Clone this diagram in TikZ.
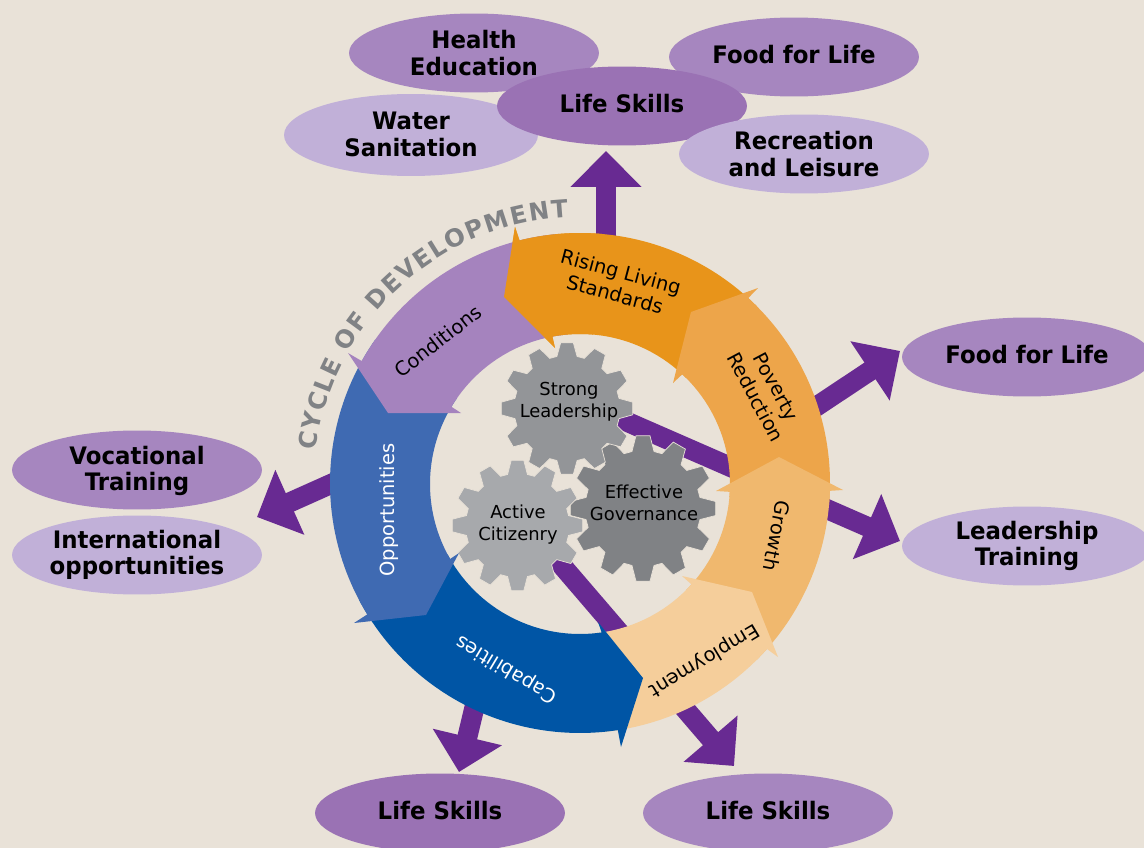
\documentclass[tikz,border=0pt]{standalone}
\usepackage{fontspec}
\setmainfont{DejaVu Sans}
\newfontfamily\bubblefont{DejaVu Sans Bold}[FakeStretch=0.95]
\usetikzlibrary{arrows.meta,decorations.text,shapes.geometric}
\definecolor{bgc}{HTML}{E9E2D8}
\definecolor{pur}{HTML}{682A92}
\definecolor{ellA}{HTML}{A686BF}
\definecolor{ellB}{HTML}{9A72B4}
\definecolor{ellC}{HTML}{C1B0D8}
\definecolor{cCond}{HTML}{A583BE}
\definecolor{cRise}{HTML}{E8941A}
\definecolor{cPov}{HTML}{EDA54A}
\definecolor{cGrow}{HTML}{F0B86E}
\definecolor{cEmp}{HTML}{F5CE9B}
\definecolor{cCap}{HTML}{0055A5}
\definecolor{cOpp}{HTML}{3F6AB2}
\definecolor{gS}{HTML}{939598}
\definecolor{gE}{HTML}{808285}
\definecolor{gA}{HTML}{A7A9AC}
\newcommand\ringO[2]{plot[domain=#1:#2,samples=50] ({580+250*cos(\x)},{483-250*sin(\x)})}
\newcommand\ringI[2]{-- plot[domain=#1:#2,samples=50] ({580+150*cos(\x)},{484-150*sin(\x)})}
\newcommand\gear[5]{% x y Router Rroot color
  \fill[#5,draw=bgc,line width=0.4pt] ({#1+#4*cos(-11)},{#2-#4*sin(-11)})
  \foreach \a in {0,30,...,330}{
    -- ({#1+#4*cos(\a-11)},{#2-#4*sin(\a-11)})
    -- ({#1+#3*cos(\a-5.5)},{#2-#3*sin(\a-5.5)})
    -- ({#1+#3*cos(\a+5.5)},{#2-#3*sin(\a+5.5)})
    -- ({#1+#4*cos(\a+11)},{#2-#4*sin(\a+11)})
  } -- cycle;}
\tikzset{
  x=0.02cm,y=-0.02cm,
  bubble/.style={ellipse,inner sep=0pt,minimum width=5cm,minimum height=1.58cm},
  bubbletext/.style={font=\fontsize{13.7}{15.1}\selectfont\bubblefont,align=center,inner sep=0pt},
  ringlab/.style={font=\fontsize{11.1}{13.2}\selectfont,align=center,inner sep=0pt},
  gearlab/.style={font=\fontsize{10.2}{12.5}\selectfont,align=center,inner sep=0pt},
  bigarrow/.style={draw=pur,line width=0.4cm,-{Triangle[width=1.38cm,length=0.72cm]}},
}
\begin{document}
\begin{tikzpicture}
\path[use as bounding box,fill=bgc] (0,0) rectangle (1144,848);
\clip (0,0) rectangle (1144,848);
% outer bubbles
\node[bubble,fill=ellA] (health) at (474,53) {};
\node[bubble,fill=ellA] (foodtop) at (794,57) {};
\node[bubble,fill=ellC,minimum width=5.08cm,minimum height=1.64cm] (water) at (411,135) {};
\node[bubble,fill=ellB] (skillstop) at (622,106) {};
\node[bubble,fill=ellC] (recreation) at (804,154) {};
\node[bubble,fill=ellA] (foodright) at (1027,357) {};
\node[bubble,fill=ellC] (leadership) at (1027,546) {};
\node[bubble,fill=ellA] (vocational) at (137,470) {};
\node[bubble,fill=ellC] (international) at (137,555) {};
\node[bubble,fill=ellB] (skillsleft) at (440,813) {};
\node[bubble,fill=ellA] (skillsright) at (768,813) {};
\node[bubbletext] (healthT) at (474,53) {Health\\Education};
\node[bubbletext] (foodtopT) at (794,55) {Food for Life};
\node[bubbletext] (waterT) at (411,134.5) {Water\\Sanitation};
\node[bubbletext] (skillstopT) at (622,104) {Life Skills};
\node[bubbletext] (recreationT) at (804,154) {Recreation\\and Leisure};
\node[bubbletext] (foodrightT) at (1027,355) {Food for Life};
\node[bubbletext] (leadershipT) at (1027,546) {Leadership\\Training};
\node[bubbletext] (vocationalT) at (137,471) {Vocational\\Training};
\node[bubbletext] (internationalT) at (137,555) {International\\opportunities};
\node[bubbletext] (skillsleftT) at (440,811) {Life Skills};
\node[bubbletext] (skillsrightT) at (768,811) {Life Skills};
% hubs and tips of the connectors
\coordinate (hubStrong) at (600,410);
\coordinate (hubActive) at (540,540);
\coordinate (hubTop) at (606,260);
\coordinate (hubRight) at (790,424);
\coordinate (hubLeft) at (360,471);
\coordinate (hubBottom) at (481,680);
\coordinate (tipTop) at (606,151);
\coordinate (tipFood) at (900,351);
\coordinate (tipLead) at (900,541);
\coordinate (tipVoc) at (257,517);
\coordinate (tipLeft) at (459,772);
\coordinate (tipRight) at (734,766);
\draw[bigarrow] (hubTop) -- (tipTop);
\draw[bigarrow] (hubRight) -- (tipFood);
\draw[bigarrow] (hubStrong) -- (tipLead);
\draw[bigarrow] (hubLeft) -- (tipVoc);
\draw[bigarrow] (hubBottom) -- (tipLeft);
\draw[bigarrow] (hubActive) -- (tipRight);
% gears
\gear{643}{508.5}{73}{58}{gE}
\gear{517.5}{525.5}{65.5}{52}{gA}
\gear{567}{408.5}{66}{53}{gS}
% ring
\fill[cRise] \ringO{104}{45} \ringI{45}{100.6} -- (555,348) -- (504,297) -- (515,227) -- cycle;
\fill[cPov] \ringO{47.7}{-5} \ringI{-5}{47} -- (673,383) -- (691,312) -- (758,288) -- cycle;
\fill[cGrow] \ringO{-1.8}{-45} \ringI{-45}{-3} -- (716,491) -- (779,457) -- (843,490) -- cycle;
\fill[cEmp] \ringO{-41.6}{-85} \ringI{-85}{-42} -- (682,576) -- (752,592) -- (778,657) -- cycle;
\fill[cCap] \ringO{-81.3}{-152} \ringI{-152}{-81.7} -- (598,622) -- (643,678) -- (621,747) -- cycle;
\fill[cOpp] \ringO{211.7}{145} \ringI{145}{210} -- (459,553) -- (426,615) -- (354,623) -- cycle;
\fill[cCond] \ringO{150.8}{95} \ringI{95}{149} -- (461,413) -- (388,413) -- (348,353) -- cycle;
\fill[cRise] \ringO{104}{85} \ringI{85}{100.6} -- (555,348) -- (504,297) -- (515,227) -- cycle;
% ring labels
\node[ringlab,rotate=-15] (rising) at (618,283) {Rising Living\\Standards};
\node[ringlab,rotate=38] (conditions) at (438,341) {Conditions};
\node[ringlab,rotate=-62] (poverty) at (766,392) {Poverty\\Reduction};
\node[ringlab,rotate=-101.5] (growth) at (777,536) {Growth};
\node[ringlab,rotate=211] (employment) at (704,660) {Employment};
\node[ringlab,rotate=149,text=white] (capabilities) at (507,669) {Capabilities};
\node[ringlab,rotate=90,text=white] (opportunities) at (389,510) {Opportunities};
% gear labels
\node[gearlab] (strong) at (569,402) {Strong\\Leadership};
\node[gearlab] (effective) at (644,503) {Effective\\Governance};
\node[gearlab] (active) at (518,525) {Active\\Citizenry};
% arc title
\path[decorate,decoration={text along path,text align={fit to path},
  text={|\fontsize{13.9}{16}\selectfont\bfseries\color{gE}|CYCLE OF DEVELOPMENT}}]
  plot[domain=173:92.5,samples=60] ({580+266*cos(\x)},{483-266*sin(\x)});
\end{tikzpicture}
\end{document}
